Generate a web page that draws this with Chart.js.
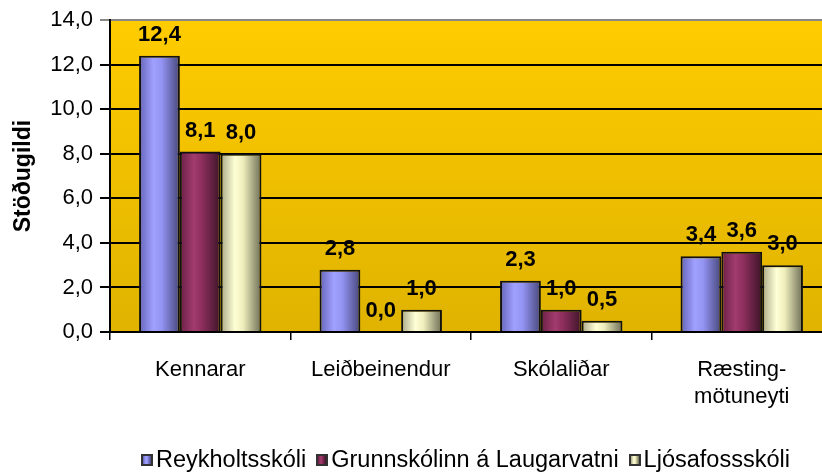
<!DOCTYPE html>
<html>
<head>
<meta charset="utf-8">
<script src="https://cdn.jsdelivr.net/npm/chart.js@4.4.1/dist/chart.umd.min.js"></script>
<style>
  html, body { margin: 0; padding: 0; background: #fff; overflow: hidden; }
  #wrap { position: relative; width: 832px; height: 472px; }
  #legend {
    position: absolute; left: 141px; top: 448px; white-space: nowrap;
    font: 23.5px Arial, "Liberation Sans", sans-serif; line-height: 23.5px; color: #000;
  }
  #legend span.item { margin-right: 10px; }
  #legend i {
    display: inline-block; width: 8px; height: 8px; border: 2px solid #333;
    margin-right: 3px; vertical-align: 1px;
  }
</style>
</head>
<body>
<div id="wrap">
  <canvas id="chart" width="832" height="472"></canvas>
  <div id="legend"></div>
</div>
<script>
// gögn úr myndinni
const categories = ['Kennarar', 'Leiðbeinendur', 'Skólaliðar', ['Ræsting-', 'mötuneyti']];
const seriesNames = ['Reykholtsskóli', 'Grunnskólinn á Laugarvatni', 'Ljósafossskóli'];
const reykholt = [12.4, 2.8, 2.3, 3.4];
const grunnskolinn = [8.1, 0.0, 1.0, 3.6];
const ljosafoss = [8.0, 1.0, 0.5, 3.0];
const yTicks = [0, 2, 4, 6, 8, 10, 12, 14];

// litir (vinstri, ljós, miðja, hægri)
const barStops = [
    ['#6464b8', '#a0a0ff', '#9494f4', '#46467a'],
    ['#6a2046', '#a23c6e', '#8c2e5c', '#3c1428'],
    ['#a8a888', '#ffffd6', '#eeeebc', '#6c6c56']
];

const font = 'Arial, "Liberation Sans", sans-serif';
const catPct = 0.678;

function fmt(v) {
    return v.toFixed(1).replace('.', ',');
}

function barGradient(ctx) {
    const chart = ctx.chart;
    const xs = chart.scales.x;
    const stops = barStops[ctx.datasetIndex];
    if (!xs || !xs.width || ctx.type !== 'data') return stops[2];
    const cw = xs.width / categories.length;
    const bw = cw * catPct / 3;
    const left = xs.getPixelForValue(ctx.dataIndex) - cw * catPct / 2 + ctx.datasetIndex * bw;
    const g = chart.ctx.createLinearGradient(left, 0, left + bw, 0);
    g.addColorStop(0, stops[0]);
    g.addColorStop(0.35, stops[1]);
    g.addColorStop(0.55, stops[2]);
    g.addColorStop(1, stops[3]);
    return g;
}

// bakgrunnur teiknisvæðis
const plotBg = {
    id: 'plotBg',
    beforeDraw(chart) {
        const a = chart.chartArea;
        const c = chart.ctx;
        const g = c.createLinearGradient(0, a.top, 0, a.bottom);
        g.addColorStop(0, '#ffcc00');
        g.addColorStop(1, '#dfb300');
        c.save();
        c.fillStyle = g;
        c.fillRect(a.left, a.top, a.right - a.left, a.bottom - a.top);
        c.restore();
    }
};

// gildi fyrir ofan súlurnar
const valueLabels = {
    id: 'valueLabels',
    afterDatasetsDraw(chart) {
        const c = chart.ctx;
        c.save();
        c.font = 'bold 22px ' + font;
        c.fillStyle = '#000';
        c.textAlign = 'center';
        c.textBaseline = 'alphabetic';
        chart.data.datasets.forEach((ds, i) => {
            chart.getDatasetMeta(i).data.forEach((bar, j) => {
                c.fillText(fmt(ds.data[j]), bar.x, bar.y - 15);
            });
        });
        c.restore();
    }
};

const datasets = [reykholt, grunnskolinn, ljosafoss].map((d, i) => ({
    label: seriesNames[i],
    data: d,
    backgroundColor: barGradient,
    borderColor: '#111',
    borderWidth: 2,
    barPercentage: 1,
    categoryPercentage: catPct
}));

new Chart(document.getElementById('chart'), {
    type: 'bar',
    data: { labels: categories, datasets: datasets },
    options: {
        responsive: false,
        animation: false,
        layout: { padding: { top: 20, right: 0, left: 0, bottom: 0 } },
        plugins: {
            legend: { display: false },
            tooltip: { enabled: false }
        },
        scales: {
            x: {
                afterFit(scale) { scale.height = 140; },
                grid: { drawOnChartArea: false, color: '#000', lineWidth: 1.5, tickLength: 8 },
                border: { color: '#000', width: 2 },
                ticks: { color: '#000', font: { size: 22, family: font }, padding: 17, maxRotation: 0 }
            },
            y: {
                min: 0,
                max: 14,
                afterFit(scale) { scale.width = 110; },
                afterBuildTicks(scale) { scale.ticks = yTicks.map(v => ({ value: v })); },
                grid: {
                    color: c => c.tick && c.tick.value === 14 ? '#888' : '#000',
                    lineWidth: 2,
                    tickLength: 10
                },
                border: { color: '#000', width: 2 },
                ticks: { color: '#000', font: { size: 22, family: font }, padding: 7, callback: v => fmt(v) },
                title: {
                    display: true,
                    text: 'Stöðugildi',
                    color: '#000',
                    font: { size: 23, weight: 'bold', family: font },
                    padding: { top: 10, bottom: 0 }
                }
            }
        }
    },
    plugins: [plotBg, valueLabels]
});

// skýringar
const legend = document.getElementById('legend');
seriesNames.forEach((name, i) => {
    const s = barStops[i];
    const item = document.createElement('span');
    item.className = 'item';
    const box = document.createElement('i');
    box.style.background = 'linear-gradient(to right,' + s[0] + ',' + s[1] + ' 35%,' + s[2] + ' 55%,' + s[3] + ')';
    item.appendChild(box);
    item.appendChild(document.createTextNode(name));
    legend.appendChild(item);
});
</script>
</body>
</html>
